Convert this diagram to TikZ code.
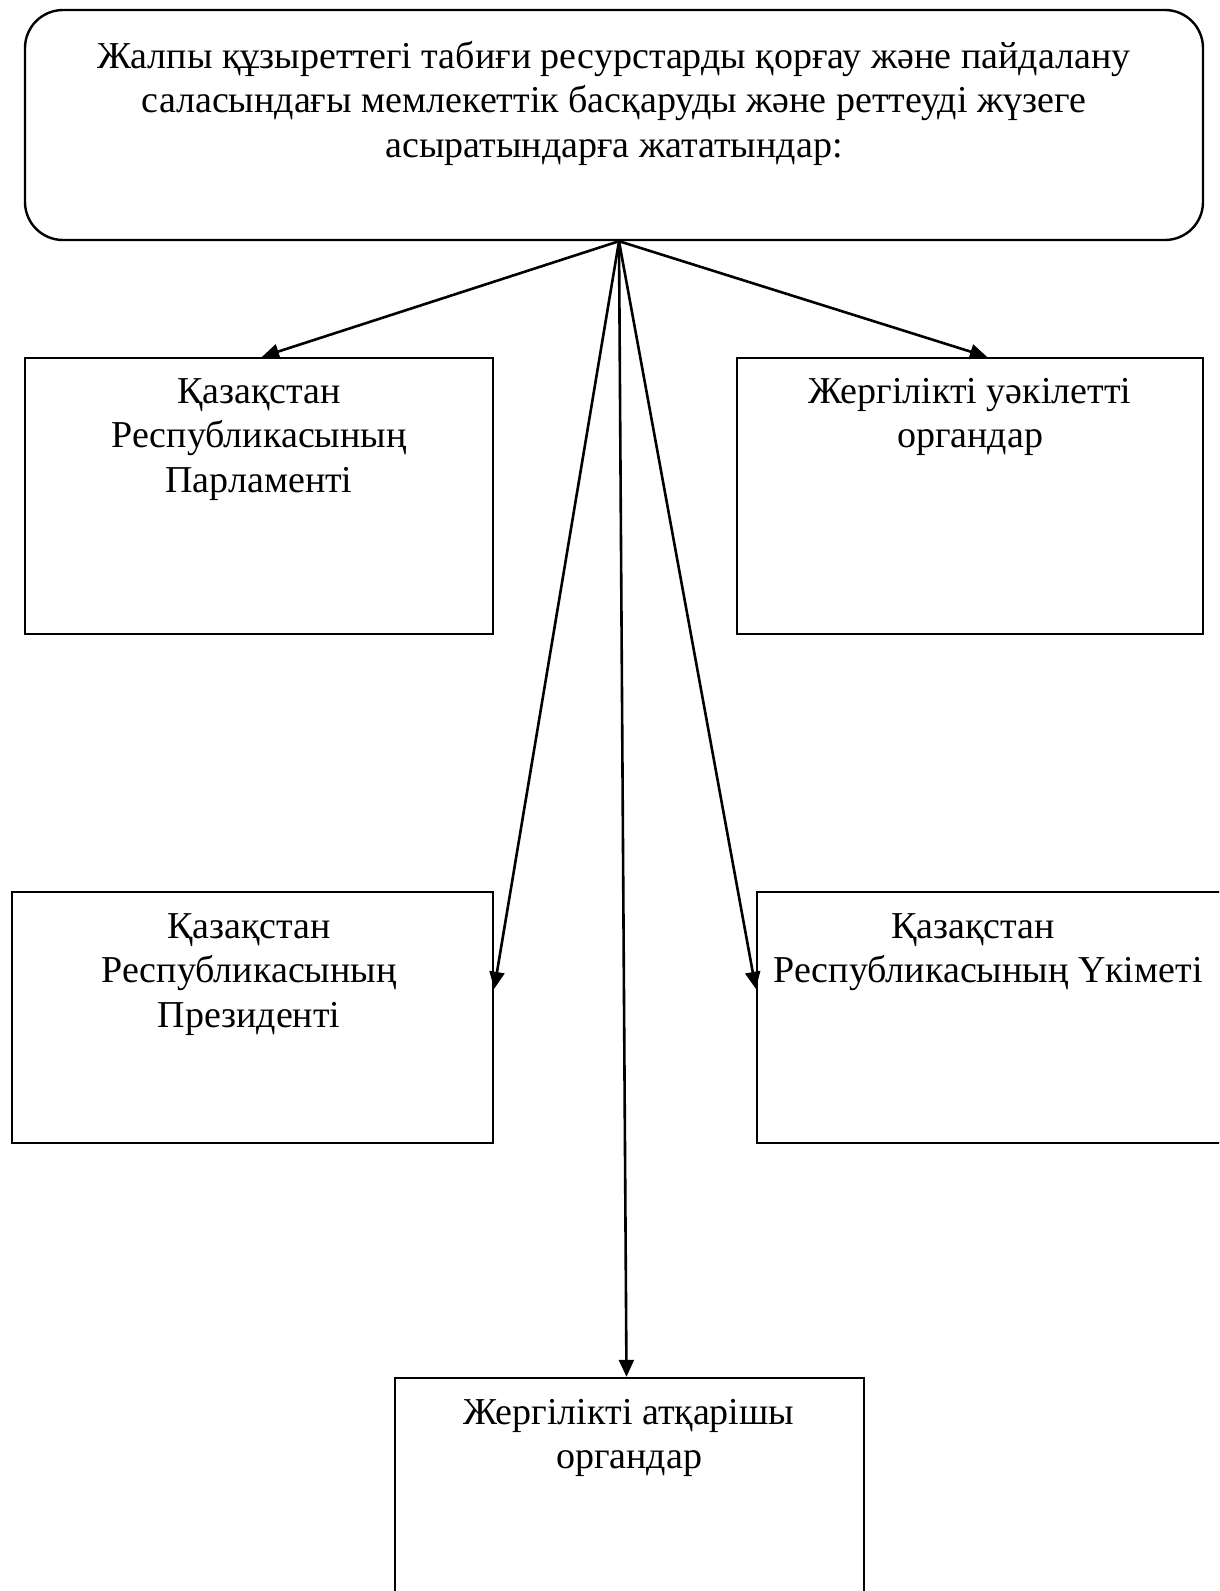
\documentclass[tikz,border=0pt]{standalone}
\usepackage{fontspec}
\setmainfont{Liberation Serif}
\usetikzlibrary{arrows.meta,calc}
\tikzset{
  box/.style={draw=black, line width=2.4pt, inner sep=0pt, fill=none},
  txt/.style={inner sep=0pt, align=center, anchor=base, font=\fontsize{38}{44.5}\selectfont},
  conn/.style={line width=2.6pt, -{Triangle[length=17pt,width=15pt]}}
}
\begin{document}
\begin{tikzpicture}[x=1pt,y=-1pt]
\useasboundingbox (0,0) rectangle (1219,1591);
\clip (0,0) rectangle (1219,1591);
\fill[white] (0,0) rectangle (1219,1591);
% boxes
\node[box, rounded corners=38pt, minimum width=1178pt, minimum height=230pt] (top) at (614,125) {};
\node[box, minimum width=468pt, minimum height=276pt] (parl) at (259,496) {};
\node[box, minimum width=466pt, minimum height=276pt] (local) at (970,496) {};
\node[box, minimum width=481pt, minimum height=251pt] (pres) at (252.5,1017.5) {};
\node[box, minimum width=470pt, minimum height=251pt] (gov) at (992,1017.5) {};
\node[box, minimum width=469pt, minimum height=222pt] (bot) at (629.5,1489) {};
% texts (anchor = baseline of last line)
\node[txt] (ttop) at (614,157) {Жалпы құзыреттегі табиғи ресурстарды қорғау және пайдалану\\саласындағы мемлекеттік басқаруды және реттеуді жүзеге\\асыратындарға жататындар:};
\node[txt] (tparl) at (259,492) {Қазақстан\\Республикасының\\Парламенті};
\node[txt] (tlocal) at (970,447.5) {Жергілікті уәкілетті\\органдар};
\node[txt] (tpres) at (249,1027) {Қазақстан\\Республикасының\\Президенті};
\node[txt] (tgov) at (988,982.5) {\hspace*{-30pt}Қазақстан\\Республикасының Үкіметі};
\node[txt] (tbot) at (629,1468.5) {Жергілікті атқарішы\\органдар};
% connectors
\coordinate (src) at ($(top.south)+(5,0)$);
\draw[conn] (src) -- ($(parl.north)+(3,0)$);
\draw[conn] (src) -- ($(local.north)+(17,0)$);
\draw[conn] (src) -- ($(pres.north east)+(0,98)$);
\draw[conn] (src) -- ($(gov.north west)+(0,98)$);
\draw[conn] (src) -- ($(bot.north)+(-3,0)$);
\end{tikzpicture}
\end{document}
